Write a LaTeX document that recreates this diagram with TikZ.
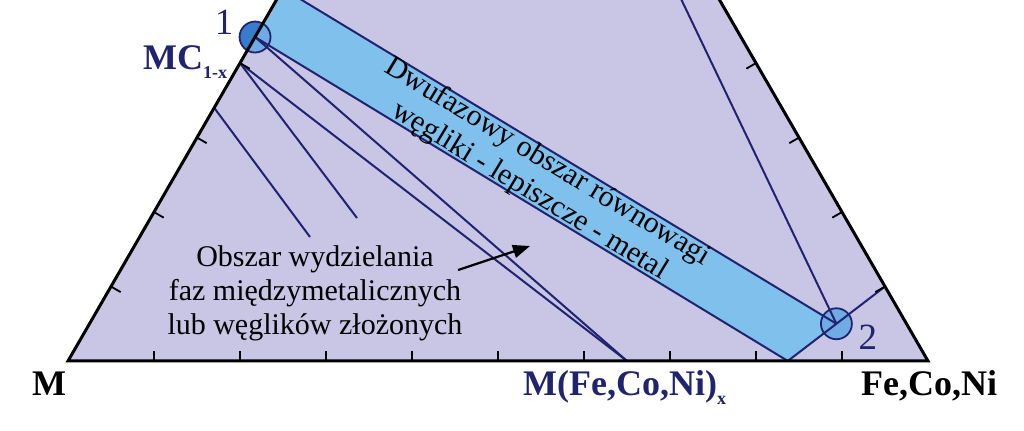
\documentclass[tikz,border=0pt]{standalone}
\usepackage{fontspec}
\setmainfont{Liberation Serif}
\usetikzlibrary{arrows.meta}
\definecolor{lavend}{RGB}{200,197,229}
\definecolor{bandblue}{RGB}{128,192,236}
\definecolor{navy}{RGB}{32,36,110}
\definecolor{dotblue}{RGB}{58,124,204}
\definecolor{dotlight}{RGB}{112,172,228}
\newcommand{\lowidx}[1]{\raisebox{-8.5pt}{\fontsize{18}{18}\selectfont #1}}
\tikzset{tie/.style={navy,line width=2pt},
  edge/.style={black,line width=3pt,line join=miter},
  tick/.style={black,line width=1.8pt},
  dot/.style={navy,line width=1.8pt},
  lbl/.style={inner sep=0pt,font=\fontsize{36}{40}\selectfont\bfseries},
  num/.style={inner sep=0pt,navy,font=\fontsize{37}{40}\selectfont},
  txt/.style={inner sep=0pt,align=center,font=\fontsize{30}{34}\selectfont},
  arr/.style={black,line width=2.2pt,-{Triangle[length=17pt,width=13pt]}}}

\begin{document}
\begin{tikzpicture}[x=86pt,y=86pt]
   \useasboundingbox (-0.7907,-0.8140) rectangle (11.1163,4.1977);
   \clip (-0.7907,-0.8140) rectangle (11.1163,4.1977);
   \coordinate (M) at (0,0);
   \coordinate (F) at (10,0);
   \coordinate (T) at (5,8.660);
   \coordinate (p1) at (2.175,3.767);
   \coordinate (p2) at (8.935,0.433);
   \coordinate (b1) at (2.5,4.330);
   \coordinate (b2) at (8.37,0);
   \coordinate (r1) at (9.5,0.866);
   \coordinate (f0) at (2,3.464);
   \coordinate (f1) at (1.7,2.944);
   \coordinate (e1) at (2.814,1.442);
   \coordinate (e2) at (3.360,1.663);
   \coordinate (x0) at (6.5,0);
   \coordinate (a0) at (4.535,1.058);
   \coordinate (a1) at (5.372,1.337);
   \fill[lavend] (M) -- (F) -- (T) -- cycle;
   \fill[dotblue] (p1) circle (0.18);
   \fill[bandblue] (p1) -- (b1) -- (p2) -- (b2) -- cycle;
   \begin{scope}
    \clip (M) -- (F) -- (T) -- cycle;
    \fill[dotlight] (p1) circle (0.18);
   \end{scope}
   \fill[dotlight] (p2) circle (0.18);
   \draw[tie] (p1) -- (b2);
   \draw[tie] (b1) -- (p2);
   \draw[tie] (b2) -- (r1);
   \draw[tie] (T) -- (p2);
   \draw[tie] (f0) -- (x0);
   \draw[tie] (p1) -- (x0);
   \draw[tie] (f0) -- (e2);
   \draw[tie] (f1) -- (e1);
   \draw[dot] (p1) circle (0.18);
   \draw[dot] (p2) circle (0.18);
   \draw[edge] (M) -- (F) -- (T) -- cycle;
   \foreach \k in {1,...,9}
    \draw[tick] (\k,0) -- ++(0,0.12);
   \foreach \k in {1,...,4} {
    \draw[tick] (\k/2,0.866*\k) -- ++(-30:0.13);
    \draw[tick] (10-\k/2,0.866*\k) -- ++(210:0.13);
   }
   \node[lbl,anchor=base] (mlab) at (-0.221,-0.407) {M};
   \node[lbl,anchor=base] (fcn) at (10.012,-0.407) {Fe,Co,Ni};
   \node[lbl,navy,anchor=base west] (mx) at (5.291,-0.407) {M(Fe,Co,Ni)\lowidx{x}};
   \node[lbl,navy,anchor=base west] (mc) at (0.872,3.384) {MC\lowidx{1-x}};
   \node[num] (n1) at (1.814,3.936) {1};
   \node[num] (n2) at (9.302,0.279) {2};
   \node[txt,rotate=-31.2] (band) at (5.47,2.14) {Dwufazowy obszar równowagi\\węgliki - lepiszcze - metal};
   \node[txt] (obs) at (2.872,0.791) {Obszar wydzielania\\faz międzymetalicznych\\lub węglików złożonych};
   \draw[arr] (a0) -- (a1);
  \end{tikzpicture}
\end{document}
